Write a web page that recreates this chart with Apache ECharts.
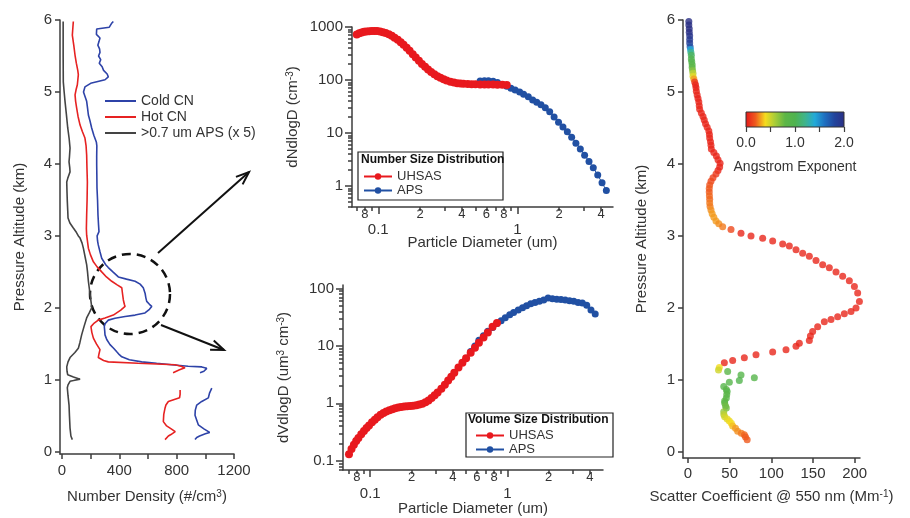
<!DOCTYPE html>
<html>
<head>
<meta charset="utf-8">
<title>Aerosol profiles</title>
<script src="https://cdn.jsdelivr.net/npm/echarts@6/dist/echarts.min.js"></script>
<style>
html, body { margin: 0; padding: 0; background: #fff; }
#chart { width: 910px; height: 518px; }
</style>
</head>
<body>
<div id="chart"></div>
<script>
// ---- left panel: number density profiles (altitude km, #/cm3) ----
const coldAlt = [5.98,5.95,5.90,5.875,5.85,5.80,5.75,5.70,5.65,5.60,5.55,5.50,5.45,5.40,5.35,5.30,5.25,5.21,5.17,5.12,5.07,5.00,4.94,4.87,4.78,4.68,4.60,4.50,4.40,4.30,4.25,4.10,3.99,3.85,3.67,3.50,3.29,3.15,3.06,3.00,2.93,2.875,2.78,2.69,2.60,2.56,2.50,2.43,2.40,2.37,2.33,2.28,2.20,2.14,2.09,2.05,2.02,1.98,1.93,1.90,1.88,1.855,1.83,1.78,1.74,1.68,1.625,1.56,1.49,1.44,1.39,1.35,1.32,1.28,1.25,1.23,1.21,1.19,1.18,1.16,1.14,1.12,1.10,null,0.885,0.82,0.75,0.70,0.65,0.58,0.51,0.44,0.375,0.32,0.27,0.25,0.22,0.20,0.17];
const coldCN = [358,345,330,242,248,240,265,258,250,262,265,255,270,260,280,290,315,323,300,200,160,150,160,172,178,184,195,207,222,240,243,242,242,243,244,248,251,255,258,245,248,253,265,277,305,323,355,393,450,510,545,567,580,585,591,610,626,610,579,510,440,370,323,300,295,298,300,312,335,360,382,400,417,470,556,660,765,880,975,1010,1021,990,963,null,1045,1030,1021,975,940,930,928,940,951,990,1030,1000,960,940,928];

const hotAlt = [5.98,5.90,5.79,5.65,5.51,5.40,5.30,5.24,5.16,5.10,5.03,4.96,4.87,4.78,4.66,4.54,4.45,4.36,4.25,4.125,3.95,3.75,3.50,3.29,3.10,3.01,2.92,2.83,2.74,2.64,2.57,2.50,2.43,2.37,2.32,2.28,2.20,2.11,2.05,2.02,1.97,1.90,1.86,1.83,1.78,1.74,1.66,1.58,1.50,1.42,1.36,1.31,1.27,1.25,1.23,1.21,1.19,1.17,1.14,1.10,null,0.86,0.80,0.75,0.70,0.65,0.61,0.52,0.42,0.36,0.33,0.28,0.26,0.24,0.22,0.17];
const hotCN = [79,76,72,82,91,100,110,114,110,107,98,91,95,102,112,126,142,160,168,172,174,177,175,172,170,172,178,184,198,219,245,277,310,347,385,417,422,428,435,440,410,358,300,253,220,202,208,219,240,265,258,253,290,323,531,789,830,858,820,775,null,824,824,820,742,725,719,710,707,730,754,790,800,760,742,719];

const apsAlt = [5.98,5.50,5.14,5.00,4.87,4.70,4.50,4.35,4.22,4.10,4.03,3.95,3.89,3.80,3.75,3.60,3.48,3.35,3.25,3.18,3.11,3.05,3.00,2.97,2.90,2.83,2.70,2.60,2.50,2.37,2.20,2.05,2.00,1.93,1.86,1.75,1.625,1.52,1.44,1.38,1.31,1.25,1.18,1.12,1.07,1.04,1.01,0.99,0.98,0.93,0.89,0.78,0.65,0.50,0.33,0.22,0.17];
const apsX5 = [8,8,9,15,21,30,40,50,56,52,49,54,56,40,33,35,37,40,42,55,79,100,114,126,140,149,162,172,178,184,195,205,207,190,172,155,137,125,114,90,56,42,33,35,40,80,126,80,56,42,37,42,49,52,56,62,72];

// ---- middle panels: size distributions (diameter um) ----
const uhsasDiam = [0.070,0.073,0.076,0.079,0.082,0.086,0.090,0.094,0.098,0.103,0.108,0.113,0.119,0.125,0.131,0.138,0.145,0.152,0.160,0.168,0.177,0.186,0.196,0.206,0.217,0.228,0.240,0.253,0.266,0.280,0.295,0.31,0.33,0.35,0.37,0.39,0.41,0.44,0.47,0.50,0.54,0.58,0.62,0.67,0.72,0.78,0.84];
const uhsasNum = [720,760,790,810,825,835,840,842,838,825,800,770,730,680,630,575,515,460,405,355,305,265,230,200,178,158,142,128,118,110,103,98,93,90,87,86,85,84,83,83,82,82,82,82,81,81,80];
const uhsasVol = [0.13,0.16,0.19,0.22,0.25,0.29,0.33,0.37,0.41,0.47,0.52,0.57,0.63,0.68,0.72,0.76,0.79,0.82,0.85,0.86,0.88,0.89,0.90,0.91,0.93,0.95,0.98,1.04,1.12,1.24,1.38,1.55,1.80,2.1,2.5,2.9,3.4,4.2,5.1,6.1,7.6,9.3,11.3,14.0,17.2,21.5,25];

const apsDiam = [0.54,0.58,0.62,0.67,0.72,0.78,0.84,0.90,0.965,1.04,1.11,1.20,1.29,1.38,1.48,1.59,1.71,1.84,1.98,2.13,2.29,2.46,2.64,2.84,3.05,3.28,3.52,3.79,4.07,4.37];
const apsNum = [96,97,97,95,90,82,76,70,65,59,54,48,42,38,34,30,25,20,16,13,10.5,8.3,6.4,5.0,3.8,2.9,2.2,1.6,1.15,0.82];
const apsVol = [8,10,12.5,15,18,21,24.5,27.5,31,35,38,42,46,50,54,57,60,63,68,66,65,64,63,61,60,57,56,51,42,36];

// ---- right panel: scattering profile with Angstrom exponent ----
const scatAlt = [5.98,5.93,5.88,5.83,5.78,5.73,5.68,5.63,5.59,5.55,5.51,5.46,5.42,5.38,5.34,5.30,5.26,5.22,5.18,5.14,5.10,5.06,5.01,4.96,4.91,4.86,4.81,4.76,4.71,4.66,4.61,4.56,4.51,4.46,4.41,4.36,4.31,4.26,4.21,4.16,4.11,4.06,4.01,3.96,3.91,3.86,3.81,3.76,3.71,3.66,3.61,3.56,3.51,3.46,3.41,3.36,3.31,3.26,3.21,3.17,3.13,3.09,3.04,3.00,2.97,2.93,2.89,2.86,2.81,2.76,2.72,2.66,2.60,2.56,2.50,2.44,2.38,2.30,2.21,2.09,2.00,1.95,1.92,1.88,1.84,1.81,1.74,1.675,1.61,1.55,1.51,1.47,1.42,1.39,1.35,1.31,1.27,1.24,1.175,1.14,1.12,1.07,1.03,0.995,0.97,0.91,0.87,0.84,0.80,0.75,0.71,0.68,0.64,0.61,0.56,0.52,0.49,0.46,0.43,0.40,0.36,0.33,0.29,0.26,0.24,0.21,0.17];
const scatCoef = [1,1,1.5,1.5,2,2,2,2.5,3,3.5,4,4,4.5,5,5,5.5,6,6,7,8,9,9.6,10,11,12,13,13.5,14,16,18,19.5,21,23,25,25.7,26,27,27.6,28,31,34,36,38.5,38,36,33.6,30,27.6,26,25.5,25.5,25.7,26,26,26.5,27.6,29,31,33.6,37,41.6,51.6,63.6,75.6,89.6,101.6,113.6,121.6,129.6,137.6,145.6,153.6,161.6,169.6,177.6,185.6,193.6,199.7,203.6,205.7,201.6,195.6,187.6,179.6,171.6,163.6,155.6,149.6,146.9,145.6,133.6,129.6,117.6,101.6,81.6,67.6,53.6,43.6,37.6,36.6,47.6,63.6,79.6,61.6,49.6,42.9,46,47,46.5,46,44,44,45,46,42.9,43,44,47,49.6,52,53.6,57,59.6,64,67.6,69,71];
const angstrom = [2.0,2.0,2.0,2.0,1.95,1.9,1.85,1.75,1.4,1.2,1.05,1.0,0.95,0.9,0.8,0.7,0.55,0.45,0.3,0.1,
  0.05,0.03,0.05,0.05,0.03,0.05,0.05,0.05,0.05,0.05,0.05,0.05,0.05,0.05,0.05,0.05,0.05,0.05,0.05,0.05,0.05,0.05,0.05,0.05,0.05,
  0.1,0.12,0.15,0.18,0.2,0.2,0.22,0.22,0.25,0.25,0.28,0.3,0.3,0.3,0.28,0.25,0.15,
  0.05,0.05,0.05,0.05,0.05,0.05,0.05,0.05,0.05,0.05,0.05,0.05,0.05,0.05,0.05,0.05,0.05,0.05,0.05,0.05,0.05,0.05,0.05,0.05,0.05,0.05,0.05,0.05,0.05,0.05,0.05,0.05,0.05,0.05,0.05,0.05,
  0.4,0.5,0.85,0.9,0.9,0.95,0.9,0.9,0.85,0.9,0.85,0.85,0.8,0.8,0.75,0.75,0.65,0.55,0.5,0.45,0.42,0.4,0.35,0.3,0.28,0.25,0.22,0.2,0.2];
const aeColors = ['#e5161b','#ef5a1e','#f5dc1e','#a6cc38','#5db646','#4fb34f','#3fb48a','#22a9d8','#1e6fc0','#22449c','#2b2f85'];

// ---- tick labels ----
const altTicks = [0,1,2,3,4,5,6];
const densTicks = [0,200,400,600,800,1000,1200];
const densLabels = [0,400,800,1200];
const scatTicks = [0,50,100,150,200];
const aeLabels = [0,1,2];
const aeTicks = [0,0.5,1,1.5,2];
const diamDigits = [2,4,6,8];   // leading digits labelled between decades

const FONT = 'Liberation Sans';
const INK = '#333';
const AX = '#3c3c3c';
const lineSt = { color: AX, width: 1.5 };
const nameRich = {
  a: { fontSize: 15, color: INK, fontFamily: FONT },
  s: { fontSize: 10, color: INK, fontFamily: FONT, verticalAlign: 'top' }
};
const nameStyle = { fontSize: 15, color: INK, fontFamily: FONT, rich: nameRich };

function zip(xs, ys) {
  return xs.map((x, i) => (x === null ? '-' : [x, ys[i]]));
}

function linAxis(grid, pos, min, max, ticks, labels, name, nameGap, margin) {
  return {
    type: 'value', gridIndex: grid, position: pos, min: min, max: max,
    axisLine: { show: true, onZero: false, lineStyle: lineSt },
    axisTick: { show: true, customValues: ticks, length: 5, lineStyle: lineSt },
    axisLabel: { customValues: labels, formatter: v => String(v), showMinLabel: true, showMaxLabel: true,
      fontSize: 15, color: INK, fontFamily: FONT, margin: margin },
    splitLine: { show: false },
    name: name, nameLocation: 'middle', nameGap: nameGap, nameMoveOverlap: false, nameTextStyle: nameStyle
  };
}

function decadeTicks(lo, hi, mults) {
  const out = [];
  for (let e = -3; e <= 3; e++) {
    mults.forEach(m => {
      const v = m * Math.pow(10, e);
      if (v >= lo * 0.9999 && v <= hi * 1.0001) out.push(Math.log10(v));
    });
  }
  return out;
}
function powText(e) {
  return e < 0 ? Math.pow(10, e).toFixed(-e) : String(Math.pow(10, e));
}

// log axis for the series plus value axes carrying the Igor-style ticks:
// the decade axis holds long ticks and decade labels, the minor axis short ticks and digit labels
function logAxes(grid, dim, lo, hi, digits, majorMargin, name, nameGap) {
  const pos = dim === 'x' ? 'bottom' : 'left';
  const lmin = Math.log10(lo), lmax = Math.log10(hi);
  const txt = { color: INK, fontFamily: FONT };
  const base = {
    type: 'log', logBase: 10, gridIndex: grid, position: pos, min: lo, max: hi,
    axisLine: { show: true, onZero: false, lineStyle: lineSt },
    axisTick: { show: false }, axisLabel: { show: false }, splitLine: { show: false }
  };
  const major = {
    type: 'value', gridIndex: grid, position: pos, min: lmin, max: lmax,
    axisLine: { show: false, onZero: false },
    axisTick: { show: true, customValues: decadeTicks(lo, hi, [1]), length: 7, lineStyle: lineSt },
    axisLabel: Object.assign({
      customValues: decadeTicks(lo, hi, [1]), formatter: v => powText(Math.round(v)),
      showMinLabel: true, showMaxLabel: true, hideOverlap: false, fontSize: 15, margin: majorMargin
    }, txt),
    splitLine: { show: false },
    name: name, nameLocation: 'middle', nameGap: nameGap, nameMoveOverlap: false, nameTextStyle: nameStyle
  };
  const minor = {
    type: 'value', gridIndex: grid, position: pos, min: lmin, max: lmax,
    axisLine: { show: false, onZero: false },
    axisTick: { show: true, customValues: decadeTicks(lo, hi, [2,3,4,5,6,7,8,9]), length: 4, lineStyle: lineSt },
    axisLabel: digits.length ? Object.assign({
      customValues: decadeTicks(lo, hi, digits),
      formatter: v => String(Math.round(Math.pow(10, v - Math.floor(v + 1e-9)))),
      showMinLabel: true, showMaxLabel: true, hideOverlap: false, fontSize: 13, margin: 1
    }, txt) : { show: false },
    splitLine: { show: false }
  };
  return [base, major, minor];
}

const ntX = logAxes(1, 'x', 0.0647, 4.88, diamDigits, 15, 'Particle Diameter (um)', 28);
const ntY = logAxes(1, 'y', 0.40, 1000, [], 9, '{a|dNdlogD (cm}{s|-3}{a|)}', 52);
const vdX = logAxes(2, 'x', 0.0633, 4.98, diamDigits, 16, 'Particle Diameter (um)', 31);
const vdY = logAxes(2, 'y', 0.069, 115, [], 9, '{a|dVdlogD (um}{s|3}{a| cm}{s|-3}{a|)}', 52);

const barGradient = new echarts.graphic.LinearGradient(0, 0, 1, 0,
  aeColors.map((c, i) => ({ offset: i / (aeColors.length - 1), color: c })));

const xAxes = [
  linAxis(0, 'bottom', -14, 1200, densTicks, densLabels, '{a|Number Density (#/cm}{s|3}{a|)}', 35, 9),
  ...ntX, ...vdX,
  linAxis(3, 'bottom', -6, 206.4, scatTicks, scatTicks, '{a|Scatter Coefficient @ 550 nm (Mm}{s|-1}{a|)}', 31, 8),
  {
    type: 'value', gridIndex: 4, position: 'bottom', min: 0, max: 2,
    axisLine: { show: false, onZero: false },
    axisTick: { show: true, customValues: aeTicks, length: 5, lineStyle: { color: AX, width: 1.2 } },
    axisLabel: { customValues: aeLabels, formatter: v => v.toFixed(1), showMinLabel: true, showMaxLabel: true,
      fontSize: 14, color: INK, fontFamily: FONT, margin: 9 },
    splitLine: { show: false },
    name: 'Angstrom Exponent', nameLocation: 'middle', nameGap: 33, nameMoveOverlap: false,
    nameTextStyle: { fontSize: 14, color: INK, fontFamily: FONT }
  }
];
const yAxes = [
  linAxis(0, 'left', -0.03, 6, altTicks, altTicks, 'Pressure Altitude (km)', 33, 8),
  ...ntY, ...vdY,
  linAxis(3, 'left', -0.083, 6, altTicks, altTicks, 'Pressure Altitude (km)', 34, 8),
  { type: 'value', gridIndex: 4, min: 0, max: 1, show: false }
];
// xAxes/yAxes: 0 left, 1-3 number dist, 4-6 volume dist, 7 scatter, 8 colour bar

function arrow(x1, y1, x2, y2) {
  const len = Math.hypot(x2 - x1, y2 - y1);
  const ux = (x2 - x1) / len, uy = (y2 - y1) / len;
  const bx = x2 - 13 * ux, by = y2 - 13 * uy;
  return [
    { type: 'line', shape: { x1: x1, y1: y1, x2: x2, y2: y2 }, style: { stroke: '#111', lineWidth: 2 } },
    { type: 'polyline', shape: { points: [[bx - 5 * uy, by + 5 * ux], [x2, y2], [bx + 5 * uy, by - 5 * ux]] },
      style: { stroke: '#111', lineWidth: 2, fill: null } }
  ];
}

const legendText = { fontSize: 13, color: INK, fontFamily: FONT };

const option = {
  animation: false,
  backgroundColor: '#fff',
  grid: [
    { left: 60, top: 20, width: 174, height: 434 },
    { left: 352, top: 27, width: 261, height: 180 },
    { left: 343, top: 285, width: 260, height: 185 },
    { left: 683, top: 20, width: 177, height: 438 },
    { left: 746, top: 112, width: 98, height: 15, show: true, backgroundColor: barGradient, borderColor: '#333', borderWidth: 1 }
  ],
  xAxis: xAxes,
  yAxis: yAxes,
  legend: [
    { data: ['Cold CN', 'Hot CN', '>0.7 um APS (x 5)'], orient: 'vertical', left: 104, top: 94, padding: 0,
      itemWidth: 31, itemHeight: 2, itemGap: 2, textStyle: { fontSize: 14, color: INK, fontFamily: FONT } },
    { data: ['UHSAS', 'APS'], orient: 'vertical', left: 363, top: 170, padding: 0,
      itemWidth: 28, itemHeight: 8, itemGap: 1, textStyle: legendText },
    { data: ['UHSAS', 'APS'], orient: 'vertical', left: 475, top: 429, padding: 0,
      itemWidth: 28, itemHeight: 8, itemGap: 1, textStyle: legendText }
  ],
  visualMap: {
    type: 'continuous', show: false, seriesIndex: 7, dimension: 2, min: 0, max: 2,
    inRange: { color: aeColors }
  },
  series: [
    { name: 'Cold CN', type: 'line', xAxisIndex: 0, yAxisIndex: 0, data: zip(coldCN, coldAlt), legendIcon: 'rect',
      symbol: 'none', connectNulls: false, lineStyle: { color: '#2e43a8', width: 1.6 }, itemStyle: { color: '#2e43a8' } },
    { name: 'Hot CN', type: 'line', xAxisIndex: 0, yAxisIndex: 0, data: zip(hotCN, hotAlt), legendIcon: 'rect',
      symbol: 'none', connectNulls: false, lineStyle: { color: '#e62222', width: 1.6 }, itemStyle: { color: '#e62222' } },
    { name: '>0.7 um APS (x 5)', type: 'line', xAxisIndex: 0, yAxisIndex: 0, data: zip(apsX5, apsAlt), legendIcon: 'rect',
      symbol: 'none', lineStyle: { color: '#444', width: 1.6 }, itemStyle: { color: '#444' } },
    { name: 'APS', type: 'line', xAxisIndex: 1, yAxisIndex: 1, data: zip(apsDiam, apsNum),
      symbol: 'circle', symbolSize: 7, lineStyle: { color: '#2150a3', width: 1 }, itemStyle: { color: '#2150a3' } },
    { name: 'UHSAS', type: 'line', xAxisIndex: 1, yAxisIndex: 1, data: zip(uhsasDiam, uhsasNum),
      symbol: 'circle', symbolSize: 8, lineStyle: { color: '#e8191e', width: 1 }, itemStyle: { color: '#e8191e' } },
    { name: 'APS', type: 'line', xAxisIndex: 4, yAxisIndex: 4, data: zip(apsDiam, apsVol),
      symbol: 'circle', symbolSize: 7, lineStyle: { color: '#2150a3', width: 1 }, itemStyle: { color: '#2150a3' } },
    { name: 'UHSAS', type: 'line', xAxisIndex: 4, yAxisIndex: 4, data: zip(uhsasDiam, uhsasVol),
      symbol: 'circle', symbolSize: 8, lineStyle: { color: '#e8191e', width: 1 }, itemStyle: { color: '#e8191e' } },
    { name: 'Scattering', type: 'scatter', xAxisIndex: 7, yAxisIndex: 7,
      data: scatCoef.map((x, i) => [x, scatAlt[i], angstrom[i]]), symbolSize: 7 }
  ],
  graphic: [
    { type: 'rect', shape: { x: 358, y: 152, width: 145, height: 48 }, style: { fill: null, stroke: '#222', lineWidth: 1.2 } },
    { type: 'text', x: 361, y: 154, style: { text: 'Number Size Distribution', fontSize: 12, fontWeight: 'bold', fontFamily: FONT, fill: '#111' } },
    { type: 'rect', shape: { x: 466, y: 413, width: 147, height: 44 }, style: { fill: null, stroke: '#222', lineWidth: 1.2 } },
    { type: 'text', x: 468, y: 414, style: { text: 'Volume Size Distribution', fontSize: 12, fontWeight: 'bold', fontFamily: FONT, fill: '#111' } },
    { type: 'circle', shape: { cx: 130, cy: 294, r: 40 }, style: { fill: null, stroke: '#111', lineWidth: 2.5, lineDash: [9, 6] } },
    ...arrow(158, 253, 249, 172),
    ...arrow(161, 325, 224, 350)
  ]
};

const chart = echarts.init(document.getElementById('chart'));
chart.setOption(option);
</script>
</body>
</html>
